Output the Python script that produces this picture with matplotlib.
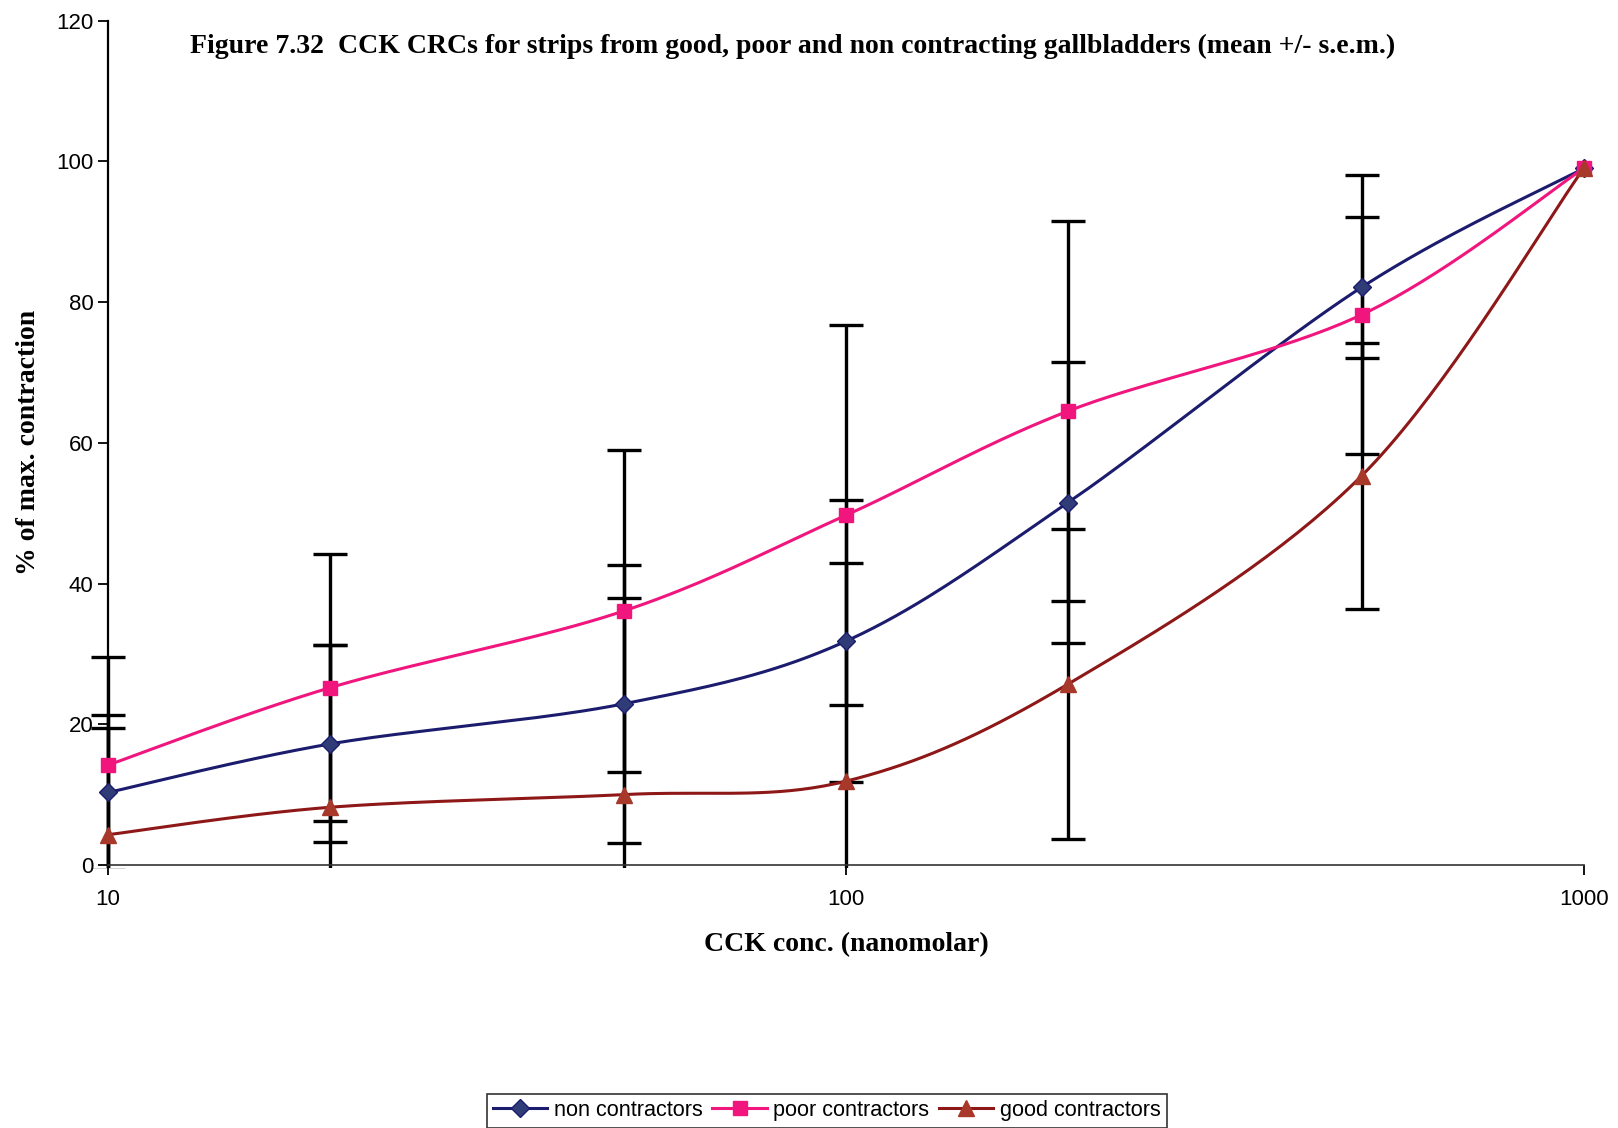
import numpy as np
import matplotlib
matplotlib.use("Agg")
import matplotlib.pyplot as plt
from matplotlib.lines import Line2D
from matplotlib.patches import Rectangle
from matplotlib.ticker import FixedLocator, FixedFormatter, NullLocator

# CCK concentration (nM) and % of max contraction, mean and s.e.m.
conc = [10, 20, 50, 100, 200, 500, 1000]
non_mean = [10.3, 17.2, 22.9, 31.8, 51.5, 82.1, 99.0]
non_sem = [11.0, 14.0, 19.8, 20.0, 20.0, 10.0]
poor_mean = [14.2, 25.2, 36.1, 49.7, 64.5, 78.2, 99.0]
poor_sem = [15.3, 19.0, 22.9, 27.0, 27.0, 19.8]
good_mean = [4.3, 8.2, 10.0, 11.9, 25.7, 55.3, 99.0]
good_sem = [15.1, 23.0, 28.0, 31.0, 22.0, 18.9]

series_names = ["non contractors", "poor contractors", "good contractors"]

NAVY = "#1c1c6e"
PINK = "#f0167e"
RED_LINE = "#8e1717"
RED_FACE = "#a8382a"


def smooth(xs, ys, sx=738.0, sy=7.04, n=40):
    # Excel-style smoothed line: cubic Bezier segments with Catmull-Rom tangents,
    # worked out in a roughly screen-scaled (log x, y) space
    px = np.log10(np.asarray(xs, float)) * sx
    py = np.asarray(ys, float) * sy
    pts = np.column_stack([px, py])
    out = []
    t = np.linspace(0, 1, n)[:, None]
    for i in range(len(pts) - 1):
        p0 = pts[max(i - 1, 0)]
        p1 = pts[i]
        p2 = pts[i + 1]
        p3 = pts[min(i + 2, len(pts) - 1)]
        c1 = p1 + (p2 - p0) / 6.0
        c2 = p2 - (p3 - p1) / 6.0
        seg = ((1 - t) ** 3) * p1 + 3 * ((1 - t) ** 2) * t * c1 + 3 * (1 - t) * t ** 2 * c2 + t ** 3 * p2
        out.append(seg if i == 0 else seg[1:])
    out = np.vstack(out)
    return 10 ** (out[:, 0] / sx), out[:, 1] / sy


fig = plt.figure(figsize=(16.18, 11.28), dpi=100)
ax = fig.add_axes([0.0668, 0.2332, 0.912, 0.7485])

ax.set_xscale("log")
ax.set_xlim(10, 1000)
ax.set_ylim(0, 120)

# error bars may spill past the left/right edges but are cut off at y = 0
clip = Rectangle((-0.05, -0.004), 1.1, 1.01, transform=ax.transAxes, visible=False)
ax.add_patch(clip)
for mean, sem in [(non_mean, non_sem), (poor_mean, poor_sem), (good_mean, good_sem)]:
    eb = ax.errorbar(conc[:6], mean[:6], yerr=sem, fmt="none", ecolor="black",
                     elinewidth=2.4, capsize=12, capthick=2.4, zorder=2)
    for art in eb.lines[1] + eb.lines[2]:
        art.set_clip_path(clip)

sx, sy = smooth(conc, non_mean)
ax.plot(sx, sy, color=NAVY, lw=2.2, zorder=3)
ax.plot(conc, non_mean, ls="none", marker="D", ms=9, mfc="#2f3c78", mec=NAVY,
        zorder=5, clip_on=False)

sx, sy = smooth(conc, poor_mean)
ax.plot(sx, sy, color=PINK, lw=2.2, zorder=3)
ax.plot(conc, poor_mean, ls="none", marker="s", ms=10, mfc=PINK, mec=PINK,
        zorder=5, clip_on=False)

sx, sy = smooth(conc, good_mean)
ax.plot(sx, sy, color=RED_LINE, lw=2.2, zorder=3)
ax.plot(conc, good_mean, ls="none", marker="^", ms=11, mfc=RED_FACE, mec=RED_FACE,
        zorder=5, clip_on=False)

# axes styling
for side in ["top", "right"]:
    ax.spines[side].set_visible(False)
ax.spines["left"].set_linewidth(1.6)
ax.spines["bottom"].set_linewidth(1.2)
ax.spines["bottom"].set_color("#333333")

ax.xaxis.set_major_locator(FixedLocator([10, 100, 1000]))
ax.xaxis.set_major_formatter(FixedFormatter(["10", "100", "1000"]))
ax.xaxis.set_minor_locator(NullLocator())
ax.set_yticks(range(0, 121, 20))
ax.tick_params(axis="both", direction="out", length=7, width=1.3, labelsize=16,
               colors="black")
ax.tick_params(axis="x", pad=10)
for lab in ax.get_xticklabels() + ax.get_yticklabels():
    lab.set_family("Liberation Sans")

ax.set_xlabel("CCK conc. (nanomolar)", family="Liberation Serif", weight="bold",
              fontsize=20, labelpad=16)
ax.set_ylabel("% of max. contraction", family="Liberation Serif", weight="bold",
              fontsize=20, labelpad=11)

fig.text(0.49, 0.959, "Figure 7.32  CCK CRCs for strips from good, poor and non contracting "
         "gallbladders (mean +/- s.e.m.)", family="Liberation Serif", weight="bold",
         fontsize=20, ha="center", va="center")

handles = [
    Line2D([], [], color=NAVY, lw=2.2, marker="D", ms=9, mfc="#2f3c78", mec=NAVY),
    Line2D([], [], color=PINK, lw=2.2, marker="s", ms=10, mfc=PINK, mec=PINK),
    Line2D([], [], color=RED_LINE, lw=2.2, marker="^", ms=11, mfc=RED_FACE, mec=RED_FACE),
]
leg = fig.legend(handles, series_names, loc="center", bbox_to_anchor=(0.511, 0.0155),
                 ncol=3, frameon=True, fancybox=False, handlelength=2.5,
                 handletextpad=0.3, columnspacing=0.45, borderpad=0.3,
                 prop={"family": "Liberation Sans", "size": 15.6})
leg.get_frame().set_edgecolor("black")
leg.get_frame().set_linewidth(1.2)

fig.savefig("out.png", dpi=100)
